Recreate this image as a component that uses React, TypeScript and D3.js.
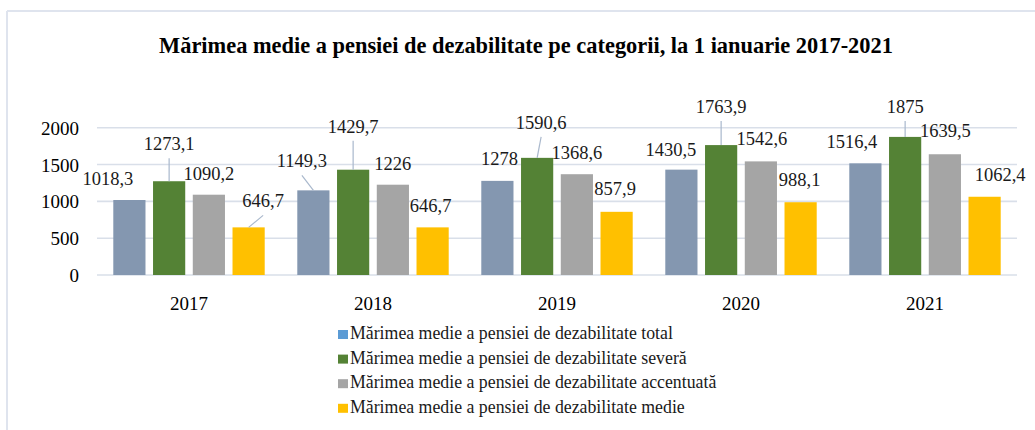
import React from 'react';
import * as d3 from 'd3';

const years = ['2017', '2018', '2019', '2020', '2021'];
const seriesNames = [
  'Mărimea medie a pensiei de dezabilitate total',
  'Mărimea medie a pensiei de dezabilitate severă',
  'Mărimea medie a pensiei de dezabilitate accentuată',
  'Mărimea medie a pensiei de dezabilitate medie',
];
const totalValues = [1018.3, 1149.3, 1278, 1430.5, 1516.4];
const severaValues = [1273.1, 1429.7, 1590.6, 1763.9, 1875];
const accentuataValues = [1090.2, 1226, 1368.6, 1542.6, 1639.5];
const medieValues = [646.7, 646.7, 857.9, 988.1, 1062.4];
const yTicks = [0, 500, 1000, 1500, 2000];
const title = 'Mărimea medie a pensiei de dezabilitate pe categorii, la 1 ianuarie  2017-2021';

// styling / layout
const barColors = ['#8497b0', '#548235', '#a5a5a5', '#ffc000'];
const legendColors = ['#5b9bd5', '#548235', '#a5a5a5', '#ffc000'];
const labelDx = [
  [-21.5, -11.5, 2, -10.5, -13.5],
  [0, 0, 4, 0, 0],
  [0, 0, 0, 1, 0.5],
  [14.5, -2, -1.5, -1, 15.5],
];
const labelDy = [
  [0, -8, -1, 1.4, 0],
  [-16, -22, -14, -17, -9],
  [0, 0, 0, -1.4, -2.3],
  [-5, 0, -2, -1, -1],
];
const leader = [
  [0, 1, 0, 0, 0],
  [1, 1, 1, 1, 1],
  [0, 0, 0, 0, 0],
  [1, 0, 0, 0, 0],
];

const W = 1035;
const H = 430;
const FONT = "'Liberation Serif', 'Times New Roman', 'DejaVu Serif', serif";

export default function App() {
  const seriesValues = [totalValues, severaValues, accentuataValues, medieValues];
  const x0 = d3.scaleBand<string>().domain(years).range([97, 1017]).paddingInner(0).paddingOuter(0);
  const x1 = d3
    .scaleBand<number>()
    .domain([0, 1, 2, 3])
    .range([0, x0.bandwidth()])
    .paddingInner(0.19)
    .paddingOuter(0.41);
  const y = d3.scaleLinear().domain([0, 2000]).range([275, 127.7]);
  const fmt = (v: number) => String(v).replace('.', ',');
  const ts = { fontFamily: FONT };

  return (
    <svg
      width={W}
      height={H}
      style={{ position: 'absolute', left: 0, top: 0, background: '#fff', fontFamily: FONT }}
    >
      <rect x={0} y={0} width={W} height={H} fill="#fff" />
      {/* border */}
      <line x1={7} y1={11} x2={W} y2={11} stroke="#dfe4ee" strokeWidth={2} />
      <line x1={7} y1={11} x2={7} y2={H} stroke="#dfe4ee" strokeWidth={2} />

      <text x={526} y={53} textAnchor="middle" fontWeight="bold" fontSize={22.4} fill="#000" style={ts}>
        {title}
      </text>

      {/* gridlines */}
      {yTicks.map((t) => (
        <g key={t}>
          <line x1={97} x2={1017} y1={y(t)} y2={y(t)} stroke="#d9dfe9" strokeWidth={1.6} />
          <text x={79} y={y(t) + 7} textAnchor="end" fontSize={19} fill="#000" style={ts}>
            {t}
          </text>
        </g>
      ))}

      {/* bars */}
      {years.map((yr, i) => (
        <g key={yr}>
          {seriesValues.map((vals, s) => {
            const bx = (x0(yr) as number) + (x1(s) as number);
            const bw = x1.bandwidth();
            return (
              <rect
                key={s}
                x={bx}
                y={y(vals[i])}
                width={bw}
                height={y(0) - y(vals[i])}
                fill={barColors[s]}
              />
            );
          })}
          <text
            x={(x0(yr) as number) + x0.bandwidth() / 2}
            y={310}
            textAnchor="middle"
            fontSize={19}
            fill="#000"
            style={ts}
          >
            {yr}
          </text>
        </g>
      ))}

      {/* data labels */}
      {years.map((yr, i) =>
        seriesValues.map((vals, s) => {
          const cx = (x0(yr) as number) + (x1(s) as number) + x1.bandwidth() / 2;
          const top = y(vals[i]);
          const lx = cx + labelDx[s][i];
          const ly = top - 15 + labelDy[s][i];
          return (
            <g key={`${yr}-${s}`}>
              {leader[s][i] ? (
                <line x1={lx} y1={ly + 8} x2={cx} y2={top} stroke="#a9b8cc" strokeWidth={1.2} />
              ) : null}
              <text x={lx} y={ly} textAnchor="middle" fontSize={18.5} fill="#1a1a1a" style={ts}>
                {fmt(vals[i])}
              </text>
            </g>
          );
        })
      )}

      {/* legend */}
      {seriesNames.map((name, s) => (
        <g key={name} transform={`translate(338, ${339 + s * 24.6})`}>
          <rect x={0} y={-9} width={10} height={9} fill={legendColors[s]} />
          <text x={12} y={0} fontSize={17.8} fill="#1a1a1a" style={ts}>
            {name}
          </text>
        </g>
      ))}
    </svg>
  );
}
